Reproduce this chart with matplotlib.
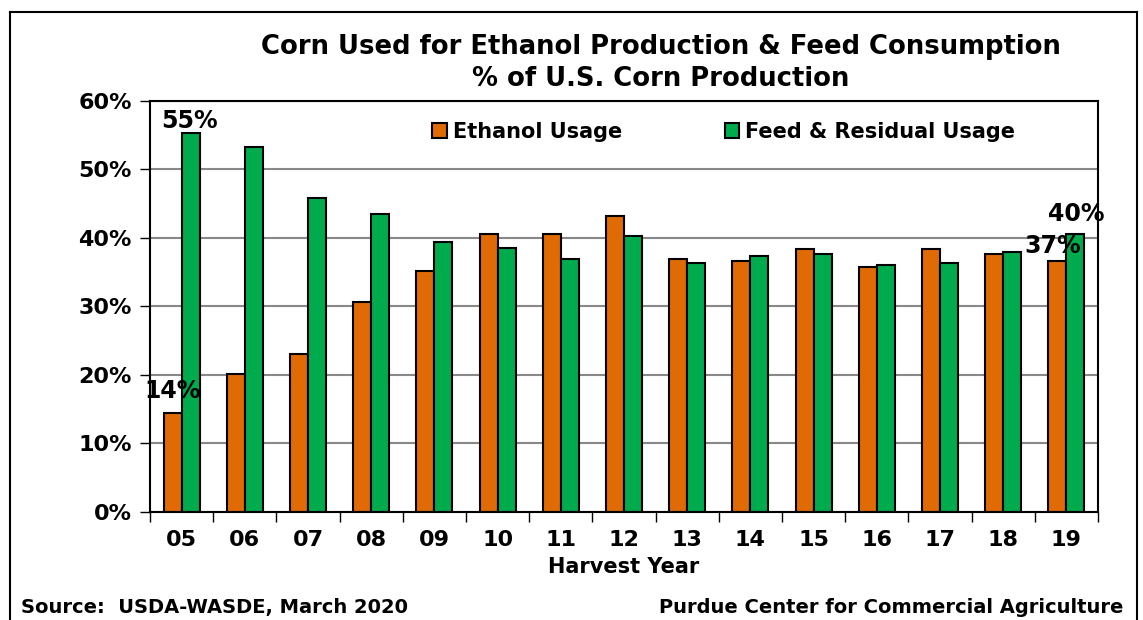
import matplotlib
matplotlib.use("Agg")
import matplotlib.pyplot as plt
import numpy as np
from matplotlib.lines import Line2D

# ---------------------------------------------------------------
# Data
# ---------------------------------------------------------------
years = ["05", "06", "07", "08", "09", "10", "11", "12", "13", "14", "15", "16", "17", "18", "19"]
ethanol = [14.4, 20.1, 23.1, 30.7, 35.2, 40.6, 40.6, 43.2, 36.9, 36.7, 38.4, 35.8, 38.4, 37.6, 36.7]
feed = [55.3, 53.3, 45.9, 43.5, 39.4, 38.5, 37.0, 40.3, 36.4, 37.3, 37.6, 36.0, 36.4, 37.9, 40.6]

ORANGE = "#E06A04"
GREEN = "#00AB4E"

plt.rcParams["font.family"] = "DejaVu Sans"
plt.rcParams["font.weight"] = "bold"

fig = plt.figure(figsize=(11.43, 6.2), dpi=100)
ax = fig.add_axes([0.1312, 0.1742, 0.8294, 0.6629])

x = np.arange(len(years))
w = 0.285
ax.bar(x - w / 2, ethanol, w, color=ORANGE, edgecolor="black", linewidth=1.5,
       label="Ethanol Usage", zorder=3)
ax.bar(x + w / 2, feed, w, color=GREEN, edgecolor="black", linewidth=1.5,
       label="Feed & Residual Usage", zorder=3)

ax.set_xlim(-0.5, len(years) - 0.5)
ax.set_ylim(0, 60)
ax.set_yticks(np.arange(0, 61, 10))
ax.set_yticklabels([f"{v}%" for v in range(0, 61, 10)], fontsize=16, fontweight="bold")
ax.tick_params(axis="y", length=7, width=1, direction="out", pad=6)
ax.grid(axis="y", color="#888888", linewidth=1.5, zorder=0)

ax.set_xticks(x)
ax.set_xticklabels(years, fontsize=16, fontweight="bold")
ax.tick_params(axis="x", which="major", length=0, pad=13)
ax.set_xticks(np.arange(-0.5, len(years)), minor=True)
ax.tick_params(axis="x", which="minor", length=7, width=1, direction="out")
ax.set_xlabel("Harvest Year", fontsize=15, fontweight="bold", labelpad=5)

for s in ax.spines.values():
    s.set_linewidth(1.5)
    s.set_zorder(4)

# value labels (drawn over the bars, clip off)
lbl = dict(ha="center", va="center", fontsize=17, fontweight="bold", zorder=5, clip_on=False)
ax.text(-0.136, 17.6, "14%", **lbl)
ax.text(0.13, 57.1, "55%", **lbl)
ax.text(13.79, 38.9, "37%", **lbl)
ax.text(14.15, 43.5, "40%", **lbl)

leg = ax.legend(loc="upper left", bbox_to_anchor=(0.276, 1.0), ncol=2, frameon=False,
                fontsize=15, handlelength=0.7, handleheight=0.7, handletextpad=0.3,
                columnspacing=4.9, borderaxespad=0.6)

fig.text(0.578, 0.925, "Corn Used for Ethanol Production & Feed Consumption",
         ha="center", va="center", fontsize=18.6, fontweight="bold")
fig.text(0.578, 0.872, "% of U.S. Corn Production",
         ha="center", va="center", fontsize=18.6, fontweight="bold")

fig.text(0.018, 0.02, "Source:  USDA-WASDE, March 2020", ha="left", va="center",
         fontsize=14, fontweight="bold")
fig.text(0.983, 0.02, "Purdue Center for Commercial Agriculture", ha="right", va="center",
         fontsize=14, fontweight="bold")

# outer border (bottom edge is cut off in the original)
for xs, ys in [([0.009, 0.009], [0.0, 0.981]), ([0.009, 0.995], [0.981, 0.981]),
               ([0.995, 0.995], [0.981, 0.0])]:
    fig.add_artist(Line2D(xs, ys, color="black", linewidth=1.5, transform=fig.transFigure))

fig.savefig("out.png", dpi=100)
